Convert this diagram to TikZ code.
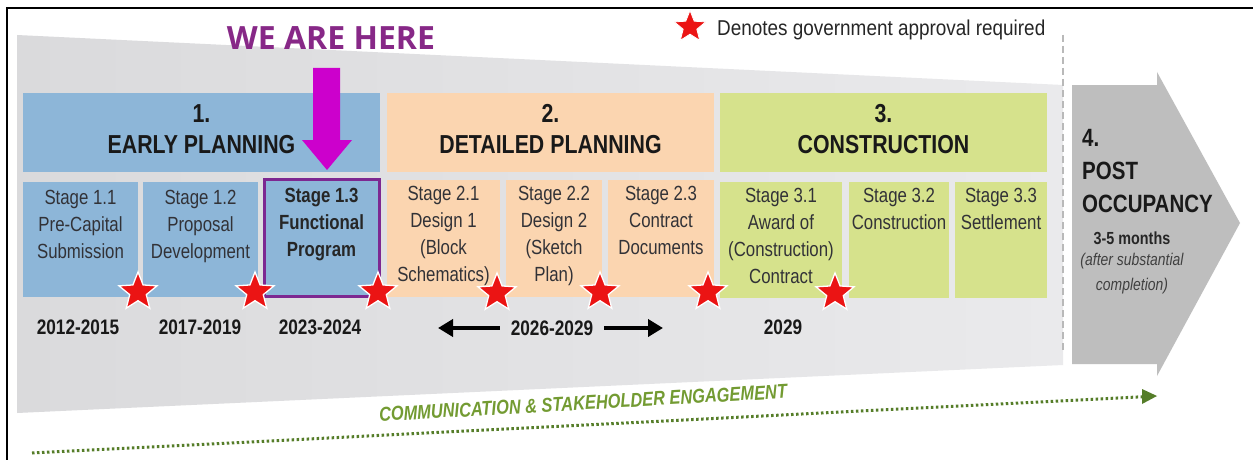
\documentclass[tikz,border=0pt]{standalone}
\usepackage{fontspec}
\setmainfont{Liberation Sans}[FakeStretch=0.82]
\newfontfamily\legfont{Liberation Sans}[FakeStretch=0.88]
\newfontfamily\wefont{Open Sans}
\usetikzlibrary{shapes.geometric,arrows.meta,calc}
\definecolor{blueA}{RGB}{141,182,216}
\definecolor{peachA}{RGB}{251,213,176}
\definecolor{limeA}{RGB}{214,226,140}
\definecolor{purpleB}{RGB}{125,40,145}
\definecolor{magentaA}{RGB}{204,0,204}
\definecolor{weText}{RGB}{135,40,135}
\definecolor{darkArrow}{RGB}{190,190,190}
\definecolor{bandL}{RGB}{218,218,220}
\definecolor{bandR}{RGB}{234,234,236}
\definecolor{dotGreen}{RGB}{85,125,40}
\definecolor{commGreen}{RGB}{115,155,50}
\definecolor{txtGrey}{RGB}{50,50,55}
\definecolor{starRed}{RGB}{235,20,20}
\begin{document}
\begin{tikzpicture}[x=1pt,y=-1pt,
  boxnode/.style={rectangle,draw=none,inner sep=0pt,outer sep=0pt},
  hdrtext/.style={anchor=north,align=center,inner sep=0pt,text=black!90,font=\fontsize{26}{31}\selectfont\bfseries},
  stagetext/.style={anchor=north,align=center,inner sep=0pt,text=txtGrey,font=\fontsize{20.5}{27}\selectfont},
  yeartext/.style={inner sep=0pt,text=black!90,font=\fontsize{21}{25}\selectfont\bfseries},
  redstar/.style={star,star points=5,star point ratio=2.3,fill=starRed,draw=white,line width=1.3pt,minimum size=40pt,inner sep=0pt},
  blkarrow/.style={line width=4.5pt,-{Triangle[length=15pt,width=17pt]}},
]
\useasboundingbox (0,0) rectangle (1253,460);
\fill[white] (0,0) rectangle (1253,460);
% frame
\draw[line width=1.2pt] (7,460) -- (7,8) -- (1253,8);
% band
\shade[left color=bandL,right color=bandR] (17,35) -- (1063,85) -- (1063,365) -- (17,413) -- cycle;
% post occupancy arrow
\fill[darkArrow] (1072,85) -- (1157,85) -- (1157,72) -- (1240,223) -- (1157,376) -- (1157,364) -- (1072,364) -- cycle;
\draw[gray!55,line width=1.3pt,dash pattern=on 7pt off 4pt] (1063,35) -- (1063,353);
% headers
\node[boxnode,fill=blueA,minimum width=357pt,minimum height=79pt] (H1) at (201.5,132.5) {};
\node[boxnode,fill=peachA,minimum width=327pt,minimum height=79pt] (H2) at (550.5,132.5) {};
\node[boxnode,fill=limeA,minimum width=327pt,minimum height=79pt] (H3) at (883.5,132.5) {};
\node[hdrtext] (h1) at (201.5,104) {1.\\EARLY PLANNING};
\node[hdrtext] (h2) at (550.5,104) {2.\\DETAILED PLANNING};
\node[hdrtext] (h3) at (883.5,104) {3.\\CONSTRUCTION};
% stage boxes
\node[boxnode,fill=blueA,minimum width=115pt,minimum height=115pt] (S11) at (80.5,239.5) {};
\node[boxnode,fill=blueA,minimum width=115pt,minimum height=115pt] (S12) at (200.5,239.5) {};
\node[boxnode,fill=blueA,draw=purpleB,line width=3pt,minimum width=115pt,minimum height=117pt] (S13) at (321.5,237.5) {};
\node[boxnode,fill=peachA,minimum width=113pt,minimum height=117pt] (S21) at (443.5,238.5) {};
\node[boxnode,fill=peachA,minimum width=96pt,minimum height=117pt] (S22) at (554,238.5) {};
\node[boxnode,fill=peachA,minimum width=106pt,minimum height=117pt] (S23) at (661,238.5) {};
\node[boxnode,fill=limeA,minimum width=122pt,minimum height=116pt] (S31) at (781,240) {};
\node[boxnode,fill=limeA,minimum width=100pt,minimum height=116pt] (S32) at (899,240) {};
\node[boxnode,fill=limeA,minimum width=92pt,minimum height=116pt] (S33) at (1001,240) {};
% stage texts
\node[stagetext] (t11) at (80.5,190) {Stage 1.1\\Pre-Capital\\Submission};
\node[stagetext] (t12) at (200.5,190) {Stage 1.2\\Proposal\\Development};
\node[stagetext,text=black!85,font=\fontsize{20.5}{27}\selectfont\bfseries] (t13) at (321.5,188) {Stage 1.3\\Functional\\Program};
\node[stagetext] (t21) at (443.5,186) {Stage 2.1\\Design 1\\(Block\\Schematics)};
\node[stagetext] (t22) at (554,186) {Stage 2.2\\Design 2\\(Sketch\\Plan)};
\node[stagetext] (t23) at (661,186) {Stage 2.3\\Contract\\Documents};
\node[stagetext] (t31) at (781,188) {Stage 3.1\\Award of\\(Construction)\\Contract};
\node[stagetext] (t32) at (899,188) {Stage 3.2\\Construction};
\node[stagetext] (t33) at (1001,188) {Stage 3.3\\Settlement};
% post occupancy text
\node[anchor=north west,align=left,inner sep=0pt,text=black!90,font=\fontsize{25}{33}\selectfont\bfseries] (p4) at (1082,129) {4.\\POST\\OCCUPANCY};
\node[inner sep=0pt,text=black!85,font=\fontsize{17.5}{20}\selectfont\bfseries] (p4m) at (1132,238) {3-5 months};
\node[anchor=north,align=center,inner sep=0pt,text=black!75,font=\fontsize{17}{25}\selectfont\itshape] (p4a) at (1132,253) {(after substantial\\completion)};
% stars
\node[redstar] (st1) at (138,292) {};
\node[redstar] (st2) at (255,292) {};
\node[redstar] (st3) at (378,292) {};
\node[redstar] (st4) at (497,293) {};
\node[redstar] (st5) at (600,292) {};
\node[redstar] (st6) at (708,292) {};
\node[redstar] (st7) at (835,293) {};
% legend
\node[redstar,minimum size=33pt,line width=0.8pt] (lst) at (690,27) {};
\node[anchor=west,inner sep=0pt,text=black!85,font=\legfont\fontsize{21.5}{26}\selectfont] (leg) at (717,30) {Denotes government approval required};
% we are here
\node[inner sep=0pt,text=weText,font=\wefont\fontsize{32}{36}\selectfont\bfseries] (we) at (331,38) {WE ARE HERE};
\fill[magentaA] (313,68) -- (340,68) -- (340,140) -- (352,140) -- (327,170) -- (302,140) -- (313,140) -- cycle;
% years
\node[yeartext] (y1) at (78,327) {2012-2015};
\node[yeartext] (y2) at (200,327) {2017-2019};
\node[yeartext] (y3) at (320,327) {2023-2024};
\node[yeartext] (y4) at (552,328) {2026-2029};
\node[yeartext] (y5) at (783,327) {2029};
\coordinate (la) at (438,328);
\coordinate (ra) at (663,328);
\draw[blkarrow] ([xshift=-11pt]y4.west) -- (la);
\draw[blkarrow] ([xshift=11pt]y4.east) -- (ra);
% communication
\coordinate (c1) at (32,453);
\coordinate (c2) at (1157,396);
\draw[dotGreen,line width=3pt,dash pattern=on 2.5pt off 2.5pt] (c1) -- ($(c1)!0.987!(c2)$);
\fill[dotGreen] (1142,389) -- (c2) -- (1142,404) -- cycle;
\node[rotate=3.3,inner sep=0pt,text=commGreen,font=\fontsize{20}{24}\selectfont\bfseries\itshape] (comm) at (583,403) {COMMUNICATION \& STAKEHOLDER ENGAGEMENT};
\end{tikzpicture}
\end{document}
